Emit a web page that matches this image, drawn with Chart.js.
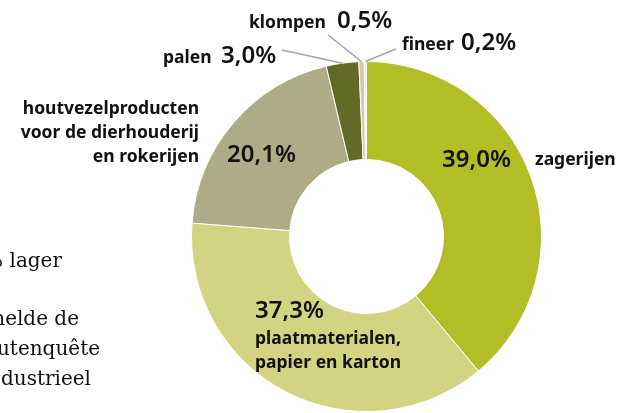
<!DOCTYPE html>
<html>
<head>
<meta charset="utf-8">
<script src="https://cdn.jsdelivr.net/npm/chart.js@4.4.1/dist/chart.umd.min.js"></script>
<style>
  html, body { margin: 0; padding: 0; background: #fff; }
</style>
</head>
<body>
<canvas id="myChart" width="634" height="413"></canvas>
<script>
  // data
  const categories = ['zagerijen', 'plaatmaterialen, papier en karton',
    'houtvezelproducten voor de dierhouderij en rokerijen', 'palen', 'klompen', 'fineer'];
  const shares = [39.0, 37.3, 20.1, 3.0, 0.5, 0.2];
  const sliceColors = ['#b3bd26', '#d2d482', '#aeac86', '#616b25', '#d8c8a8', '#eeedc6'];

  // bits of the page's body text that the crop cuts off on the left
  const sideText = ['% lager', 'nelde de', 'utenquête', 'dustrieel'];

  const fmt = v => v.toFixed(1).replace('.', ',') + '%';

  // label placement per slice (alphabetic baselines)
  const labelLayout = [
    { name: ['zagerijen'], nameX: 535, nameY: 165, align: 'left', valX: 442, valY: 167 },
    { name: ['plaatmaterialen,', 'papier en karton'], nameX: 255, nameY: 344, align: 'left', valX: 255, valY: 318 },
    { name: ['houtvezelproducten', 'voor de dierhouderij', 'en rokerijen'], nameX: 199, nameY: 114, align: 'right', valX: 227, valY: 162 },
    { name: ['palen'], nameX: 163, nameY: 63, align: 'left', valX: 221, valY: 63, lead: [282, 50] },
    { name: ['klompen'], nameX: 249, nameY: 28, align: 'left', valX: 337, valY: 28, lead: [328, 35] },
    { name: ['fineer'], nameX: 402, nameY: 50, align: 'left', valX: 461, valY: 50, lead: [396, 49] }
  ];
  // right ends and baselines of the side text
  const sideLayout = [[62, 267], [79, 325], [100, 355], [91, 385]];

  const nameFont = 'bold 17.5px "Noto Sans", sans-serif';
  const valFont = '600 24px "Noto Sans", sans-serif';
  const sideFont = '20px "DejaVu Serif", serif';

  const sliceLabels = {
    id: 'sliceLabels',
    afterDraw(chart) {
      const { ctx } = chart;
      const meta = chart.getDatasetMeta(0);
      ctx.save();
      ctx.fillStyle = '#111111';
      ctx.textBaseline = 'alphabetic';
      labelLayout.forEach((lay, i) => {
        if (lay.lead) {
          const arc = meta.data[i];
          const p = arc.getProps(['x', 'y', 'startAngle', 'endAngle', 'outerRadius'], true);
          const mid = (p.startAngle + p.endAngle) / 2;
          ctx.strokeStyle = '#a6a6a6';
          ctx.lineWidth = 1.5;
          ctx.beginPath();
          ctx.moveTo(lay.lead[0], lay.lead[1]);
          ctx.lineTo(p.x + Math.cos(mid) * p.outerRadius, p.y + Math.sin(mid) * p.outerRadius);
          ctx.stroke();
        }
        ctx.font = nameFont;
        ctx.textAlign = lay.align;
        lay.name.forEach((line, k) => ctx.fillText(line, lay.nameX, lay.nameY + k * 24));
        ctx.font = valFont;
        ctx.textAlign = 'left';
        ctx.fillText(fmt(shares[i]), lay.valX, lay.valY);
      });
      ctx.font = sideFont;
      ctx.textAlign = 'right';
      sideText.forEach((t, k) => ctx.fillText(t, sideLayout[k][0], sideLayout[k][1]));
      ctx.restore();
    }
  };

  const data = {
    labels: categories,
    datasets: [{
      data: shares,
      backgroundColor: sliceColors,
      borderColor: '#ffffff',
      borderWidth: 1
    }]
  };

  // config
  const config = {
    type: 'doughnut',
    data,
    options: {
      responsive: false,
      animation: false,
      cutout: '44%',
      rotation: 0,
      layout: { padding: { left: 191, right: 92, top: 61, bottom: 1 } },
      plugins: {
        legend: { display: false },
        tooltip: { enabled: false }
      }
    },
    plugins: [sliceLabels]
  };

  // render init block
  const myChart = new Chart(document.getElementById('myChart'), config);
</script>
</body>
</html>
